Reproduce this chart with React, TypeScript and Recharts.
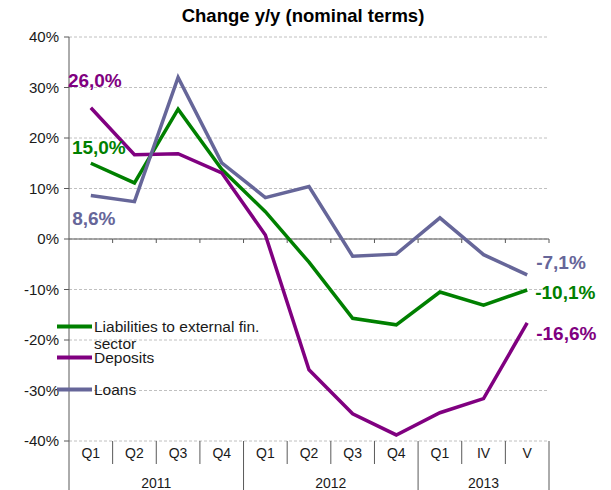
import { LineChart, Line, XAxis, YAxis, CartesianGrid, ReferenceLine, Legend, LabelList } from 'recharts';

// categories on the horizontal axis
const quarters = ['Q1', 'Q2', 'Q3', 'Q4', 'Q1', 'Q2', 'Q3', 'Q4', 'Q1', 'IV', 'V'];
const years = ['2011', '2012', '2013'];
const yearSpans = [4, 4, 3];

// y/y change, %
const liabilities = [15.0, 11.1, 25.7, 13.8, 5.4, -4.6, -15.7, -17.0, -10.5, -13.1, -10.1];
const deposits = [26.0, 16.7, 16.9, 13.1, 0.8, -25.9, -34.6, -38.8, -34.4, -31.6, -16.6];
const loans = [8.6, 7.4, 32.0, 15.1, 8.2, 10.4, -3.4, -3.0, 4.2, -3.1, -7.1];

const yTicks = [-40, -30, -20, -10, 0, 10, 20, 30, 40];

const GREEN = '#008000';
const PURPLE = '#800080';
const LOANS = '#666699';
const FONT = '"Liberation Sans", Arial, sans-serif';

const W = 611;
const H = 490;
const PLOT_LEFT = 69;
const PLOT_RIGHT = 549;
const PLOT_TOP = 37;
const X_AXIS_H = 49;
const PLOT_BOTTOM = H - X_AXIS_H;
const BAND = (PLOT_RIGHT - PLOT_LEFT) / quarters.length;

const data = quarters.map((q, i) => ({
  q,
  liabilities: liabilities[i],
  deposits: deposits[i],
  loans: loans[i],
}));

const yearStarts = yearSpans.map((_, i) => yearSpans.slice(0, i).reduce((a, b) => a + b, 0));

const fmt = (v: number) => `${v.toFixed(1).replace('.', ',')}%`;

function QuarterTick(props: any) {
  const { x, index, payload } = props;
  const left = x - BAND / 2;
  const yi = yearStarts.indexOf(index);
  const isLast = index === quarters.length - 1;
  return (
    <g>
      <line x1={left} x2={left} y1={PLOT_BOTTOM} y2={yi >= 0 ? H : PLOT_BOTTOM + 23} stroke="#595959" />
      {isLast && <line x1={left + BAND} x2={left + BAND} y1={PLOT_BOTTOM} y2={H} stroke="#595959" />}
      <text x={x} y={PLOT_BOTTOM + 17} textAnchor="middle" fontSize={14} fill="#1a1a1a" fontFamily={FONT}>
        {payload.value}
      </text>
      {yi >= 0 && (
        <text x={left + (yearSpans[yi] * BAND) / 2} y={PLOT_BOTTOM + 47} textAnchor="middle" fontSize={14} fill="#1a1a1a" fontFamily={FONT}>
          {years[yi]}
        </text>
      )}
    </g>
  );
}

function ZeroLine(props: any) {
  const { x1, y1, x2 } = props;
  const step = (x2 - x1) / quarters.length;
  return (
    <g>
      <line x1={x1} x2={x2} y1={y1} y2={y1} stroke="#595959" strokeWidth={1.2} />
      {quarters.map((_, i) => (
        <line key={i} x1={x1 + step * (i + 1)} x2={x1 + step * (i + 1)} y1={y1} y2={y1 + 4} stroke="#595959" />
      ))}
    </g>
  );
}

const endLabel = (color: string, target: number, dx: number, dy: number, anchor: 'start' | 'middle') =>
  (props: any) => {
    const { x, y, index, value } = props;
    if (index !== target) return null;
    return (
      <text x={x + dx} y={y + dy} fill={color} fontSize={19} fontWeight="bold" fontFamily={FONT}
        textAnchor={anchor} dominantBaseline="central">
        {fmt(value)}
      </text>
    );
  };

const legendItems = [
  { label: 'Liabilities to external fin. sector', color: GREEN, h: 31 },
  { label: 'Deposits', color: PURPLE, h: 32 },
  { label: 'Loans', color: LOANS, h: 20 },
];

function LegendBox() {
  return (
    <div style={{ fontFamily: FONT, fontSize: 15.5, lineHeight: '17px', color: '#1a1a1a' }}>
      {legendItems.map((it) => (
        <div key={it.label} style={{ display: 'flex', height: it.h, alignItems: 'flex-start' }}>
          <svg width={37} height={17} style={{ flex: 'none' }}>
            <line x1={0} x2={35} y1={8.5} y2={8.5} stroke={it.color} strokeWidth={4} />
          </svg>
          <div style={{ width: 172 }}>{it.label}</div>
        </div>
      ))}
    </div>
  );
}

export default function App() {
  const last = quarters.length - 1;
  return (
    <div style={{ position: 'absolute', left: 0, top: 0, width: W, height: H, background: '#fff' }}>
      <div style={{ position: 'absolute', left: 0, top: 5, width: 606, textAlign: 'center', fontFamily: FONT, fontWeight: 'bold', fontSize: 18.5, color: '#000' }}>
        Change y/y (nominal terms)
      </div>
      <LineChart width={W} height={H} data={data} margin={{ top: PLOT_TOP, right: W - PLOT_RIGHT, bottom: 0, left: 0 }}>
        <CartesianGrid vertical={false} stroke="#c0c0c0" strokeDasharray="3 2" />
        <XAxis dataKey="q" height={X_AXIS_H} axisLine={false} tickLine={false} interval={0} tick={<QuarterTick />}
          padding={{ left: BAND / 2, right: BAND / 2 }} />
        <YAxis width={PLOT_LEFT} domain={[-40, 40]} ticks={yTicks} interval={0} tickFormatter={(v) => `${v}%`}
          stroke="#595959" tickSize={5} tickMargin={5}
          tick={{ fontSize: 15, fill: '#1a1a1a', fontFamily: FONT }} />
        <ReferenceLine y={0} shape={<ZeroLine />} />
        <Legend layout="vertical" align="center" verticalAlign="middle" content={<LegendBox />}
          wrapperStyle={{ position: 'absolute', left: 57, top: 318, width: 230, bottom: 'auto', right: 'auto' }} />
        <Line dataKey="liabilities" name="Liabilities to external fin. sector" stroke={GREEN} strokeWidth={3.5} dot={false} isAnimationActive={false}>
          <LabelList dataKey="liabilities" content={endLabel(GREEN, 0, 8, -16, 'middle')} />
          <LabelList dataKey="liabilities" content={endLabel(GREEN, last, 8, 2, 'start')} />
        </Line>
        <Line dataKey="deposits" name="Deposits" stroke={PURPLE} strokeWidth={3.5} dot={false} isAnimationActive={false}>
          <LabelList dataKey="deposits" content={endLabel(PURPLE, 0, 4, -27, 'middle')} />
          <LabelList dataKey="deposits" content={endLabel(PURPLE, last, 9, 11, 'start')} />
        </Line>
        <Line dataKey="loans" name="Loans" stroke={LOANS} strokeWidth={3.5} dot={false} isAnimationActive={false}>
          <LabelList dataKey="loans" content={endLabel(LOANS, 0, 3, 23, 'middle')} />
          <LabelList dataKey="loans" content={endLabel(LOANS, last, 9, -12, 'start')} />
        </Line>
      </LineChart>
    </div>
  );
}
